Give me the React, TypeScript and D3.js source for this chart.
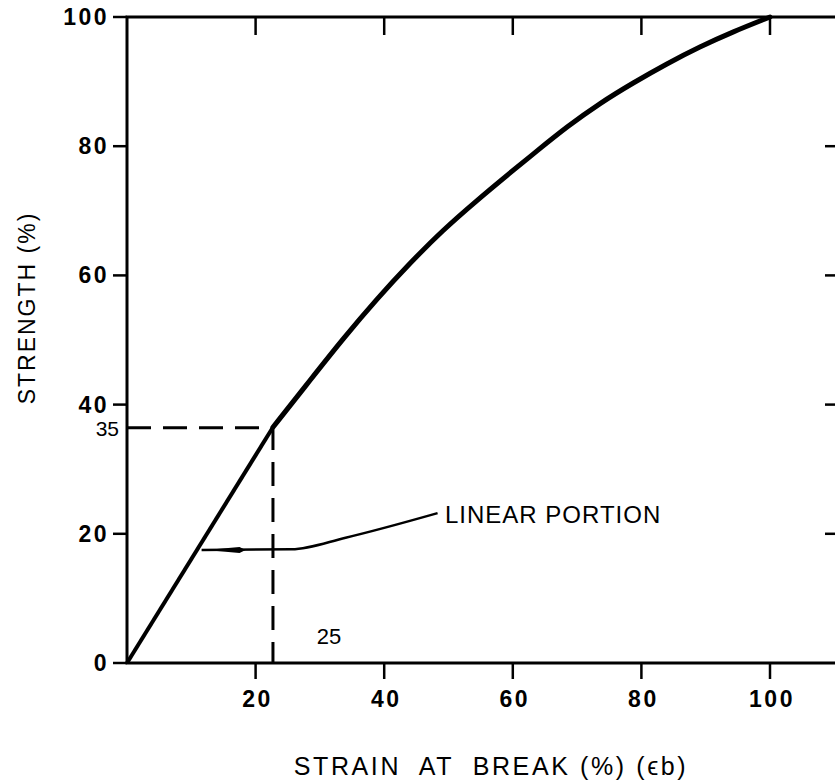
import React, { useEffect, useRef } from 'react';
import * as d3 from 'd3';

// strain at break (%) vs strength (%)
const linearPart: [number, number][] = [
  [0, 0],
  [22.7, 36.5],
];

const curvePart: [number, number][] = [
  [22.7, 36.5],
  [28.5, 43.8],
  [33.6, 50.2],
  [38.9, 56.4],
  [44.0, 61.9],
  [49.1, 67.0],
  [54.4, 71.6],
  [59.6, 75.9],
  [63.8, 79.3],
  [68.4, 83.0],
  [73.6, 86.7],
  [78.7, 89.8],
  [84.0, 92.8],
  [89.1, 95.4],
  [94.2, 97.7],
  [100, 100],
];

const leader: [number, number][] = [
  [11.6, 17.5],
  [25.6, 17.6],
  [34.0, 19.4],
  [48.3, 23.2],
];

const marker = { x: 22.7, y: 36.4, xLabel: '25', yLabel: '35' };
const xTicks = [20, 40, 60, 80, 100];
const yTicks = [0, 20, 40, 60, 80, 100];
const topTicks = [20, 40, 60, 80, 100];
const rightTicks = [20, 40, 60, 80];

const font = "'Liberation Sans', Arial, sans-serif";

const App: React.FC = () => {
  const svgRef = useRef<SVGSVGElement>(null);

  useEffect(() => {
    if (!svgRef.current) return;
    const svg = d3.select(svgRef.current);
    svg.selectAll('*').remove();

    const x = d3.scaleLinear().domain([0, 100]).range([127, 770]);
    const y = d3.scaleLinear().domain([0, 100]).range([663, 17]);
    const right = 843;

    const g = svg.append('g');

    // frame
    g.append('path')
      .attr('d', `M${right},${y(100)}H${x(0)}V${y(0)}H${right}`)
      .attr('fill', 'none')
      .attr('stroke', '#000')
      .attr('stroke-width', 3);

    // bottom ticks (outside)
    g.selectAll('.bt').data(xTicks).enter().append('line')
      .attr('x1', d => x(d)).attr('x2', d => x(d))
      .attr('y1', y(0)).attr('y2', y(0) + 16)
      .attr('stroke', '#000').attr('stroke-width', 2.5);

    // top ticks (inside)
    g.selectAll('.tt').data(topTicks).enter().append('line')
      .attr('x1', d => x(d)).attr('x2', d => x(d))
      .attr('y1', y(100)).attr('y2', y(100) + 18)
      .attr('stroke', '#000').attr('stroke-width', 2.5);

    // left ticks (outside)
    g.selectAll('.lt').data(yTicks).enter().append('line')
      .attr('x1', x(0) - 14).attr('x2', x(0))
      .attr('y1', d => y(d)).attr('y2', d => y(d))
      .attr('stroke', '#000').attr('stroke-width', 2.5);

    // right ticks (inside)
    g.selectAll('.rt').data(rightTicks).enter().append('line')
      .attr('x1', 825).attr('x2', right)
      .attr('y1', d => y(d)).attr('y2', d => y(d))
      .attr('stroke', '#000').attr('stroke-width', 2.5);

    // tick labels
    g.selectAll('.xl').data(xTicks).enter().append('text')
      .attr('x', d => x(d) + 2).attr('y', y(0) + 44)
      .attr('text-anchor', 'middle')
      .style('font-family', font).style('font-size', '23px').style('font-weight', 'bold')
      .style('letter-spacing', '2.5px')
      .text(d => String(d));

    g.selectAll('.yl').data(yTicks).enter().append('text')
      .attr('x', x(0) - 18).attr('y', d => y(d) + 8)
      .attr('text-anchor', 'end')
      .style('font-family', font).style('font-size', '23px').style('font-weight', 'bold')
      .style('letter-spacing', '2.5px')
      .text(d => String(d));

    // dashed guides
    g.append('path')
      .attr('d', `M${x(0)},${y(marker.y)}H${x(marker.x)}V${y(0)}`)
      .attr('fill', 'none')
      .attr('stroke', '#000')
      .attr('stroke-width', 3)
      .attr('stroke-dasharray', '24 12');

    g.append('text')
      .attr('x', 119).attr('y', y(marker.y) + 8)
      .attr('text-anchor', 'end')
      .style('font-family', font).style('font-size', '21px')
      .text(marker.yLabel);

    g.append('text')
      .attr('x', 329).attr('y', 644)
      .attr('text-anchor', 'middle')
      .style('font-family', font).style('font-size', '22px')
      .text(marker.xLabel);

    // curve
    const line = d3.line<[number, number]>().x(d => x(d[0])).y(d => y(d[1]));
    g.append('path')
      .attr('d', line(linearPart))
      .attr('fill', 'none').attr('stroke', '#000').attr('stroke-width', 4);
    g.append('path')
      .attr('d', line.curve(d3.curveBasis)(curvePart))
      .attr('fill', 'none').attr('stroke', '#000').attr('stroke-width', 5)
      .attr('stroke-linecap', 'round');

    // leader to "linear portion"
    const leaderLine = d3.line<[number, number]>().x(d => x(d[0])).y(d => y(d[1])).curve(d3.curveMonotoneX);
    g.append('path')
      .attr('d', leaderLine(leader))
      .attr('fill', 'none').attr('stroke', '#000').attr('stroke-width', 2.5);
    const ay = y(leader[0][1]);
    const ax = x(leader[0][0]);
    g.append('path')
      .attr('d', `M${ax + 4},${ay}L${ax + 38},${ay - 3}L${ax + 44},${ay}L${ax + 38},${ay + 3}Z`)
      .attr('fill', '#000');

    g.append('text')
      .attr('x', 445).attr('y', 523)
      .style('font-family', font).style('font-size', '24px')
      .style('letter-spacing', '1px')
      .text('LINEAR PORTION');

    // axis titles
    g.append('text')
      .attr('x', 491).attr('y', 775)
      .attr('text-anchor', 'middle')
      .style('font-family', font).style('font-size', '25px')
      .style('letter-spacing', '2.6px').style('white-space', 'pre')
      .text('STRAIN  AT  BREAK (%) (\u03F5b)');

    g.append('text')
      .attr('transform', 'translate(35,308) rotate(-90)')
      .attr('text-anchor', 'middle')
      .style('font-family', font).style('font-size', '23px')
      .style('letter-spacing', '2px').style('white-space', 'pre')
      .text('STRENGTH (%)');
  }, []);

  return (
    <svg
      ref={svgRef}
      width="835"
      height="783"
      viewBox="0 0 835 783"
      style={{ position: 'absolute', left: 0, top: 0, background: '#fff' }}
    ></svg>
  );
};

export default App;
